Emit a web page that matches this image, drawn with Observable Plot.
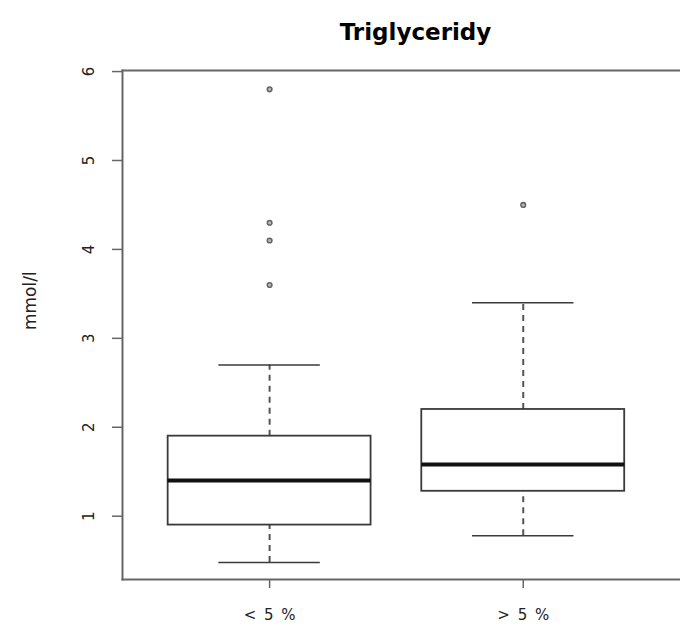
<!DOCTYPE html>
<html>
<head>
<meta charset="utf-8">
<script src="https://cdn.jsdelivr.net/npm/d3@7"></script>
<script src="https://cdn.jsdelivr.net/npm/@observablehq/plot@0.6"></script>
<style>
  html, body { margin: 0; padding: 0; background: #fff; }
  #chart svg { display: block; }
  #chart g[aria-label="x-axis tick label"] text { word-spacing: 3px; }
</style>
</head>
<body>
<div id="chart"></div>
<script>
const title = "Triglyceridy";
const yLabel = "mmol/l";
const groups = ["< 5 %", "> 5 %"];
const lowerWhisker = [0.48, 0.78];
const q1 = [0.9, 1.28];
const median = [1.4, 1.58];
const q3 = [1.9, 2.2];
const upperWhisker = [2.7, 3.4];
const outliers = [[5.8, 4.3, 4.1, 3.6], [4.5]];
const yTicks = [1, 2, 3, 4, 5, 6];

const stats = groups.map((g, k) => ({
  i: k + 1, group: g,
  lo: lowerWhisker[k], q1: q1[k], med: median[k], q3: q3[k], hi: upperWhisker[k]
}));
const outlierPts = outliers.flatMap((vals, k) => vals.map(v => ({i: k + 1, v})));

const boxHalf = 0.4, capHalf = 0.2;
const ink = "#3a3a3a";

const chart = Plot.plot({
  width: 680,
  height: 628,
  marginLeft: 122,
  marginRight: 0,
  marginTop: 70,
  marginBottom: 49,
  style: {fontFamily: "'DejaVu Sans', sans-serif", color: "#222"},
  x: {type: "linear", domain: [0.42, 2.62], axis: null},
  y: {domain: [0.288, 6.012], axis: null},
  marks: [
    // whiskers (dashed)
    Plot.ruleX(stats, {x: "i", y1: "q3", y2: "hi", stroke: "#555", strokeWidth: 2, strokeDasharray: "6,5"}),
    Plot.ruleX(stats, {x: "i", y1: "lo", y2: "q1", stroke: "#555", strokeWidth: 2, strokeDasharray: "6,5"}),
    // caps
    Plot.ruleY(stats, {y: "hi", x1: d => d.i - capHalf, x2: d => d.i + capHalf, stroke: ink, strokeWidth: 1.6}),
    Plot.ruleY(stats, {y: "lo", x1: d => d.i - capHalf, x2: d => d.i + capHalf, stroke: ink, strokeWidth: 1.6}),
    // boxes
    Plot.rect(stats, {x1: d => d.i - boxHalf, x2: d => d.i + boxHalf, y1: "q1", y2: "q3", fill: "white", stroke: ink, strokeWidth: 1.8}),
    // medians
    Plot.ruleY(stats, {y: "med", x1: d => d.i - boxHalf, x2: d => d.i + boxHalf, stroke: "#111", strokeWidth: 4}),
    // outliers
    Plot.dot(outlierPts, {x: "i", y: "v", r: 2.3, stroke: "#666", strokeWidth: 1.6, fill: "#bbb"}),
    // frame
    Plot.frame({anchor: "top", stroke: "#666", strokeWidth: 2}),
    Plot.frame({anchor: "bottom", stroke: "#666", strokeWidth: 2}),
    Plot.frame({anchor: "left", stroke: "#666", strokeWidth: 2}),
    // axes
    Plot.axisY({ticks: yTicks, tickFormat: d3.format("d"), tickSize: 10, tickPadding: 19, tickRotate: -90, fontSize: 15, stroke: "#666", strokeWidth: 1.5, label: null}),
    Plot.axisX({ticks: [1, 2], tickFormat: i => groups[i - 1], tickSize: 9, tickPadding: 21, fontSize: 15, stroke: "#666", strokeWidth: 1.5, label: null}),
    // title & y label
    Plot.text([title], {text: d => d, frameAnchor: "top", dx: 14, dy: -47, fontSize: 23, fontWeight: "bold", fill: "#000"}),
    Plot.text([yLabel], {text: d => d, frameAnchor: "left", dx: -92, dy: 5, rotate: -90, fontSize: 17, fill: "#222"})
  ]
});
document.getElementById("chart").appendChild(chart);
</script>
</body>
</html>
